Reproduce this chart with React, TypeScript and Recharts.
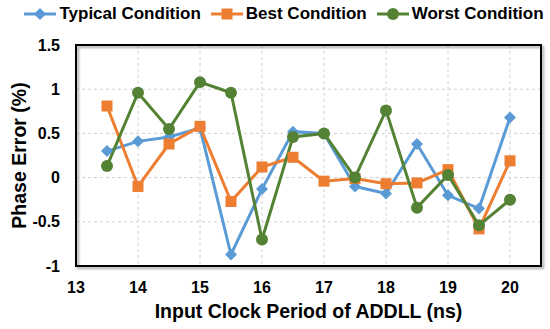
import {
  CartesianGrid,
  Legend,
  Line,
  LineChart,
  ReferenceArea,
  XAxis,
  YAxis,
} from "recharts";

const periods = [13.5, 14, 14.5, 15, 15.5, 16, 16.5, 17, 17.5, 18, 18.5, 19, 19.5, 20];
const typical = [0.3, 0.41, 0.46, 0.56, -0.87, -0.13, 0.52, 0.5, -0.1, -0.18, 0.38, -0.2, -0.35, 0.68];
const best = [0.81, -0.1, 0.38, 0.58, -0.27, 0.12, 0.23, -0.04, -0.01, -0.07, -0.06, 0.09, -0.58, 0.19];
const worst = [0.13, 0.96, 0.55, 1.08, 0.96, -0.7, 0.46, 0.5, 0, 0.76, -0.34, 0.03, -0.54, -0.25];

const xTicks = [13, 14, 15, 16, 17, 18, 19, 20];
const yTicks = [-1, -0.5, 0, 0.5, 1, 1.5];

const FONT = "Arial, 'Liberation Sans', sans-serif";
const BLUE = "#5B9BD5";
const ORANGE = "#ED7D31";
const GREEN = "#548235";

const data = periods.map((p, i) => ({
  period: p,
  typical: typical[i],
  best: best[i],
  worst: worst[i],
}));

const series = [
  { key: "typical", name: "Typical Condition", color: BLUE, marker: "diamond" },
  { key: "best", name: "Best Condition", color: ORANGE, marker: "square" },
  { key: "worst", name: "Worst Condition", color: GREEN, marker: "circle" },
];

function Marker({ shape, color, cx, cy }: { shape: string; color: string; cx: number; cy: number }) {
  if (shape === "diamond") {
    const r = 6;
    return (
      <path
        d={`M${cx},${cy - r}L${cx + r},${cy}L${cx},${cy + r}L${cx - r},${cy}Z`}
        fill={color}
      />
    );
  }
  if (shape === "square") {
    const r = 5.5;
    return <rect x={cx - r} y={cy - r} width={r * 2} height={r * 2} fill={color} />;
  }
  return <circle cx={cx} cy={cy} r={6} fill={color} />;
}

const makeDot =
  (shape: string, color: string) =>
  (props: { cx?: number; cy?: number; index?: number }) => {
    if (props.cx == null || props.cy == null) return <g key={props.index} />;
    return <Marker key={props.index} shape={shape} color={color} cx={props.cx} cy={props.cy} />;
  };

function ConditionLegend() {
  return (
    <div
      style={{
        display: "flex",
        justifyContent: "center",
        gap: 10,
        height: 28,
        alignItems: "center",
        fontFamily: FONT,
        fontWeight: "bold",
        fontSize: 17,
        color: "#000",
        paddingLeft: 18,
      }}
    >
      {series.map((s) => (
        <div key={s.key} style={{ display: "flex", alignItems: "center", gap: 3 }}>
          <svg width={32} height={14}>
            <line x1={0} y1={7} x2={32} y2={7} stroke={s.color} strokeWidth={3} />
            <Marker shape={s.marker} color={s.color} cx={16} cy={7} />
          </svg>
          <span>{s.name}</span>
        </div>
      ))}
    </div>
  );
}

export default function App() {
  const tickStyle = { fill: "#000", fontSize: 16, fontWeight: "bold", fontFamily: FONT };
  return (
    <div style={{ position: "absolute", left: 0, top: 0, width: 550, height: 329, background: "#fff" }}>
      <LineChart
        width={550}
        height={329}
        data={data}
        margin={{ top: 17, right: 9, bottom: 10, left: 4 }}
      >
        <CartesianGrid stroke="#D0D0D0" strokeDasharray="3 3" />
        <XAxis
          dataKey="period"
          type="number"
          domain={[13, 20.5]}
          ticks={xTicks}
          tickLine={false}
          axisLine={false}
          tickMargin={10}
          tick={tickStyle}
          height={53}
          label={{
            value: "Input Clock Period of ADDLL (ns)",
            position: "insideBottom",
            offset: 1,
            style: { fill: "#000", fontSize: 19.5, fontWeight: "bold", fontFamily: FONT },
          }}
        />
        <YAxis
          type="number"
          domain={[-1, 1.5]}
          ticks={yTicks}
          tickLine={false}
          axisLine={false}
          tickMargin={10}
          tick={tickStyle}
          width={72}
          label={{
            value: "Phase Error (%)",
            angle: -90,
            position: "insideLeft",
            offset: 15,
            style: {
              fill: "#000",
              fontSize: 19.5,
              fontWeight: "bold",
              fontFamily: FONT,
              textAnchor: "middle",
            },
          }}
        />
        <Legend
          verticalAlign="top"
          content={<ConditionLegend />}
          wrapperStyle={{ top: 0, left: 0, width: 550 }}
        />
        <ReferenceArea
          x1={13}
          x2={20.5}
          y1={-1}
          y2={1.5}
          fill="none"
          stroke="#000"
          strokeWidth={2}
          ifOverflow="visible"
          style={{ filter: "drop-shadow(2px 2px 1px rgba(0,0,0,0.35))" }}
        />
        {series.map((s) => (
          <Line
            key={s.key}
            dataKey={s.key}
            name={s.name}
            stroke={s.color}
            strokeWidth={3}
            dot={makeDot(s.marker, s.color)}
            activeDot={false}
            isAnimationActive={false}
          />
        ))}
      </LineChart>
    </div>
  );
}
